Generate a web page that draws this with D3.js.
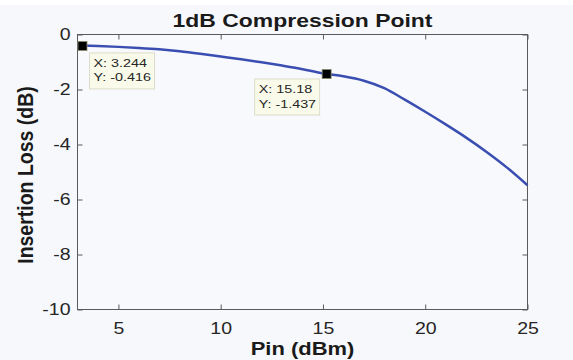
<!DOCTYPE html>
<html>
<head>
<meta charset="utf-8">
<script src="https://cdn.jsdelivr.net/npm/d3@7"></script>
<style>
  html, body { margin: 0; padding: 0; background: #f7f8fb; }
  svg { display: block; }
  text { font-family: "Liberation Sans", Arial, Helvetica, sans-serif; }
</style>
</head>
<body>
<svg id="chart" width="573" height="360"></svg>
<script>
// Input power sweep (dBm) and measured insertion loss (dB)
const pinDbm = [3, 4, 5, 6, 7, 8, 9, 10, 11, 12, 13, 14, 15, 16, 17, 18, 19, 20, 21, 22, 23, 24, 25];
const lossDb = [-0.40, -0.42, -0.45, -0.49, -0.54, -0.61, -0.70, -0.80, -0.90, -1.01, -1.13, -1.26, -1.415,
                -1.52, -1.68, -1.95, -2.37, -2.81, -3.27, -3.75, -4.27, -4.84, -5.48];

// Data tips placed on the curve
const tipX = [3.244, 15.18];
const tipY = [-0.416, -1.437];

const xTicks = [5, 10, 15, 20, 25];
const yTicks = [-10, -8, -6, -4, -2, 0];

const titleText = "1dB Compression Point";
const xLabel = "Pin (dBm)";
const yLabel = "Insertion Loss (dB)";

const W = 573, H = 360;
const box = { left: 77.5, right: 527.5, top: 34.5, bottom: 309.5 };
const SX = 1.22; // horizontal glyph stretch of the figure text

// plain hyphen-minus for negative tick labels
const fmt = d => String(d);

const svg = d3.select("#chart");

svg.append("rect").attr("x", 0).attr("y", 0).attr("width", W).attr("height", 5).attr("fill", "#ffffff");

const x = d3.scaleLinear().domain([3, 25]).range([box.left, box.right]);
const y = d3.scaleLinear().domain([-10, 0]).range([box.bottom, box.top]);

// Axes box
svg.append("rect")
  .attr("x", box.left).attr("y", box.top)
  .attr("width", box.right - box.left).attr("height", box.bottom - box.top)
  .attr("fill", "#f8f9fc").attr("stroke", "#5a5a5a").attr("stroke-width", 1);

function styleAxis(g) {
  g.select(".domain").remove();
  g.selectAll(".tick line").attr("stroke", "#5a5a5a").attr("stroke-width", 1);
  g.selectAll(".tick text").attr("fill", "#262626").style("font-size", "16px");
}

const gx = svg.append("g").attr("transform", `translate(0,${box.bottom})`)
  .call(d3.axisBottom(x).tickValues(xTicks).tickSizeInner(-5).tickSizeOuter(0).tickPadding(13).tickFormat(fmt));
styleAxis(gx);
gx.selectAll(".tick text").attr("transform", `scale(${SX},1)`);

const gxTop = svg.append("g").attr("transform", `translate(0,${box.top})`)
  .call(d3.axisTop(x).tickValues(xTicks).tickSizeInner(-5).tickSizeOuter(0).tickFormat(""));
styleAxis(gxTop);

const gy = svg.append("g").attr("transform", `translate(${box.left},0)`)
  .call(d3.axisLeft(y).tickValues(yTicks).tickSizeInner(-5).tickSizeOuter(0).tickFormat(fmt));
styleAxis(gy);
gy.selectAll(".tick text").attr("x", -7 / SX).attr("transform", `scale(${SX},1)`);

const gyRight = svg.append("g").attr("transform", `translate(${box.right},0)`)
  .call(d3.axisRight(y).tickValues(yTicks).tickSizeInner(-5).tickSizeOuter(0).tickFormat(""));
styleAxis(gyRight);

// Curve
const line = d3.line()
  .x((d, i) => x(pinDbm[i]))
  .y((d, i) => y(lossDb[i]))
  .curve(d3.curveCatmullRom.alpha(0.5));

svg.append("path")
  .datum(lossDb)
  .attr("d", line)
  .attr("fill", "none")
  .attr("stroke", "#3a4eb2")
  .attr("stroke-width", 2.5)
  .attr("stroke-linejoin", "round");

// Data tips
const tipOffsets = [[7, 7], [-72, 5]];
const tipSX = 1.25;
tipX.forEach((tx, i) => {
  const px = x(tx), py = y(tipY[i]);
  const bx = px + tipOffsets[i][0], by = py + tipOffsets[i][1];
  svg.append("rect")
    .attr("x", bx).attr("y", by).attr("width", 65).attr("height", 36)
    .attr("fill", "#fafaea").attr("stroke", "#dcdccb").attr("stroke-width", 1);
  const lines = ["X: " + tx, "Y: " + tipY[i]];
  lines.forEach((t, j) => {
    svg.append("text")
      .attr("transform", `translate(${bx + 4},${by + 14 + j * 14.5}) scale(${tipSX},1)`)
      .attr("fill", "#262626")
      .style("font-size", "11.5px")
      .text(t);
  });
  svg.append("rect")
    .attr("x", px - 4.5).attr("y", py - 4.5).attr("width", 9).attr("height", 9)
    .attr("fill", "#000000").attr("stroke", "#8a8a6a").attr("stroke-width", 0.8);
});

// Title and axis labels
const cx = (box.left + box.right) / 2;
svg.append("text")
  .attr("transform", `translate(${cx},27) scale(1.24,1)`)
  .attr("text-anchor", "middle")
  .attr("fill", "#1a1a1a")
  .style("font-size", "18.5px").style("font-weight", "bold")
  .text(titleText);

svg.append("text")
  .attr("transform", `translate(${cx},355) scale(${SX},1)`)
  .attr("text-anchor", "middle")
  .attr("fill", "#1a1a1a")
  .style("font-size", "18px").style("font-weight", "bold")
  .text(xLabel);

svg.append("text")
  .attr("transform", `translate(33,${(box.top + box.bottom) / 2 + 3}) scale(1.15,1) rotate(-90)`)
  .attr("text-anchor", "middle")
  .attr("fill", "#1a1a1a")
  .style("font-size", "19.5px").style("font-weight", "bold")
  .text(yLabel);
</script>
</body>
</html>
